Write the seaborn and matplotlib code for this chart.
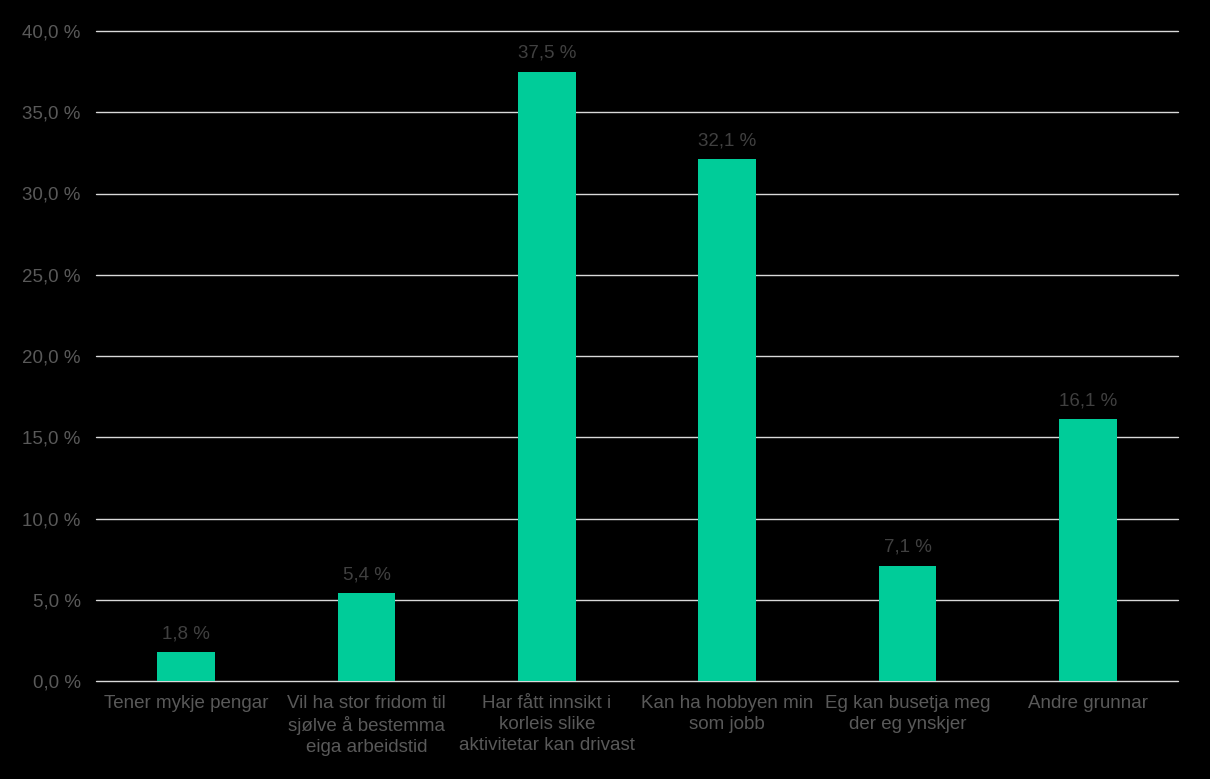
import pandas as pd
import seaborn as sns
import matplotlib.pyplot as plt
from matplotlib.ticker import FuncFormatter

categories = [
    "Tener mykje pengar",
    "Vil ha stor fridom til\nsjølve å bestemma\neiga arbeidstid",
    "Har fått innsikt i\nkorleis slike\naktivitetar kan drivast",
    "Kan ha hobbyen min\nsom jobb",
    "Eg kan busetja meg\nder eg ynskjer",
    "Andre grunnar",
]
values = [1.8, 5.4, 37.5, 32.1, 7.1, 16.1]

df = pd.DataFrame({"kategori": categories, "prosent": values})

sns.set_theme(style="dark")
plt.rcParams['font.family'] = ['Liberation Sans', 'DejaVu Sans']

fig = plt.figure(figsize=(12.1, 7.79), dpi=100, facecolor="black")
ax = fig.add_axes([96 / 1210, 1 - 681 / 779, (1178 - 96) / 1210, (681 - 31) / 779])
ax.set_facecolor("black")

sns.barplot(data=df, x="kategori", y="prosent", color="#00CC99", width=0.32,
            saturation=1, linewidth=0, ax=ax, zorder=3)

ax.set_ylim(0, 40)
ax.set_xlim(-0.5, len(categories) - 0.5)
ax.set_yticks(range(0, 41, 5))
ax.yaxis.set_major_formatter(FuncFormatter(lambda v, p: f"{v:.1f} %".replace(".", ",")))
ax.grid(True, axis="y", color="#d9d9d9", linewidth=1.0, zorder=0)
ax.grid(False, axis="x")
for line in ax.get_ygridlines():
    line.set_clip_on(False)
for s in ax.spines.values():
    s.set_visible(False)

ax.set_xticks(range(len(categories)))
ax.set_xticklabels(categories, linespacing=1.3)
ax.tick_params(axis="y", colors="#595959", labelsize=13.5, length=0, pad=11)
ax.tick_params(axis="x", colors="#595959", labelsize=13.5, length=0, pad=10)
ax.set_xlabel("")
ax.set_ylabel("")

for i, v in enumerate(values):
    ax.annotate(f"{v:.1f} %".replace(".", ","), (i, v), xytext=(0, 7),
                textcoords="offset points", ha="center", va="bottom",
                color="#404040", fontsize=13.5)

fig.savefig("out.png", dpi=100, facecolor="black")
